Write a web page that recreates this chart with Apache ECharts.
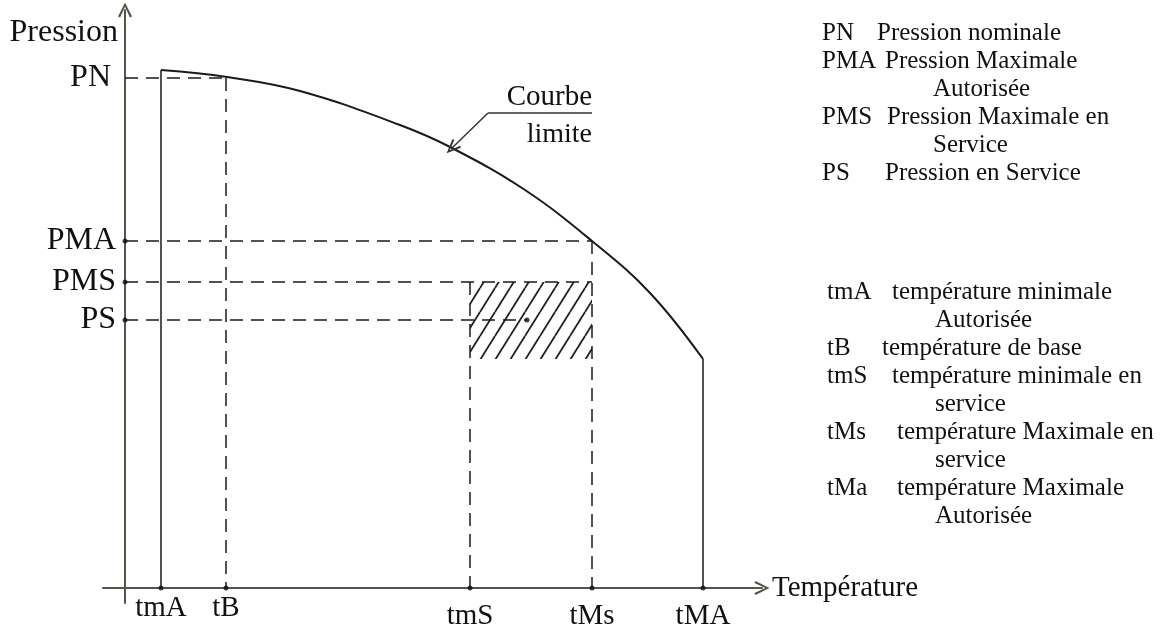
<!DOCTYPE html>
<html>
<head>
<meta charset="utf-8">
<script src="https://cdn.jsdelivr.net/npm/echarts@6/dist/echarts.min.js"></script>
<style>
  html, body { margin: 0; padding: 0; background: #fff; }
  #chart { width: 1166px; height: 629px; }
</style>
</head>
<body>
<div id="chart"></div>
<script>
// temperature marks on the x axis
const tempLabels = ["tmA", "tB", "tmS", "tMs", "tMA"];
const tempValues = [36, 101, 345, 467, 578];
// pressure marks on the y axis
const pressLabels = ["PN", "PMA", "PMS", "PS"];
const pressValues = [510, 347, 306, 268];
// limit curve
const curveX = [36, 102, 175, 275, 327, 400, 467, 525, 578];
const curveY = [518, 511, 497, 463, 440, 398, 347, 295, 229];
// hatched operating zone bottom and the PS point inside it
const hatchBottom = 229;
const psPoint = 402;

const legendPress = [
  ["PN", "Pression nominale"],
  ["PMA", "Pression Maximale", "Autorisée"],
  ["PMS", "Pression Maximale en", "Service"],
  ["PS", "Pression en Service"],
];
const legendTemp = [
  ["tmA", "température minimale", "Autorisée"],
  ["tB", "température de base"],
  ["tmS", "température minimale en", "service"],
  ["tMs", "température Maximale en", "service"],
  ["tMa", "température Maximale", "Autorisée"],
];

const FONT = "Liberation Serif";
const INK = "#1a1a1a";
const AXIS = "#55554a";
const chevron = "path://M0,20 L10,0 L20,20 L17,21.5 L10,6 L3,21.5 Z";

const [tmA, tB, tmS, tMs, tMA] = tempValues;
const [PN, PMA, PMS, PS] = pressValues;

const chart = echarts.init(document.getElementById("chart"));

function seg(a, b, dashed) {
  return {
    type: "line",
    data: [a, b],
    symbol: "none",
    silent: true,
    lineStyle: { color: INK, width: 1.5, type: dashed ? [13, 8] : "solid" },
    z: 3,
  };
}

// hatch pattern
const tile = document.createElement("canvas");
tile.width = 15;
tile.height = 24;
const tctx = tile.getContext("2d");
tctx.strokeStyle = "#222";
tctx.lineWidth = 1.8;
[-15, 0, 15].forEach((off) => {
  tctx.beginPath();
  tctx.moveTo(off, 24);
  tctx.lineTo(off + 15, 0);
  tctx.stroke();
});

const graphics = [];
function addText(x, y, text, size, align) {
  graphics.push({
    type: "text",
    x: x,
    y: y,
    style: {
      text: text,
      font: size + "px '" + FONT + "'",
      fill: "#111",
      align: align || "left",
      verticalAlign: "middle",
    },
  });
}
// legend rows
const LEG = 25;
const STEP = 28;
const pressX2 = [877, 885, 887, 885];
let rowY = 33;
legendPress.forEach((row, i) => {
  addText(822, rowY, row[0], LEG);
  addText(pressX2[i], rowY, row[1], LEG);
  rowY += STEP;
  if (row[2]) {
    addText(933, rowY, row[2], LEG);
    rowY += STEP;
  }
});
const tempX2 = [892, 882, 892, 897, 897];
rowY = 292;
legendTemp.forEach((row, i) => {
  addText(827, rowY, row[0], LEG);
  addText(tempX2[i], rowY, row[1], LEG);
  rowY += STEP;
  if (row[2]) {
    addText(935, rowY, row[2], LEG);
    rowY += STEP;
  }
});
addText(592, 97, "Courbe", 29, "right");
addText(592, 135, "limite", 28, "right");

const xLabelStyle = { fontFamily: FONT, fontSize: 29, color: "#111" };
const yLabelStyle = { fontFamily: FONT, fontSize: 32, color: "#111" };

const option = {
  animation: false,
  backgroundColor: "#fff",
  grid: { left: 103, right: 404, top: 10, bottom: 26, outerBoundsMode: "none", containLabel: false },
  xAxis: {
    type: "value",
    min: -22,
    max: 637,
    splitLine: { show: false },
    axisTick: { show: false },
    axisLine: {
      onZero: true,
      symbol: ["none", chevron],
      symbolSize: [14, 18],
      lineStyle: { color: AXIS, width: 2 },
    },
    axisLabel: {
      customValues: tempValues,
      margin: -9,
      formatter: (v) => {
        const i = tempValues.indexOf(v);
        return i < 2 ? tempLabels[i] : "{low|" + tempLabels[i] + "}";
      },
      rich: { low: Object.assign({ padding: [8, 0, 0, 0] }, xLabelStyle) },
      ...xLabelStyle,
    },
    name: "Température",
    nameLocation: "end",
    nameGap: 10,
    nameTextStyle: xLabelStyle,
  },
  yAxis: {
    type: "value",
    min: -15,
    max: 578,
    splitLine: { show: false },
    axisTick: { show: false },
    axisLine: {
      onZero: true,
      symbol: ["none", chevron],
      symbolSize: [14, 18],
      lineStyle: { color: AXIS, width: 2 },
    },
    axisLabel: {
      customValues: pressValues,
      margin: -13,
      formatter: (v) => {
        const i = pressValues.indexOf(v);
        return i === 0 ? "{pn|" + pressLabels[i] + "}" : pressLabels[i];
      },
      rich: { pn: Object.assign({ padding: [0, 5, 0, 0] }, yLabelStyle) },
      ...yLabelStyle,
    },
    name: "Pression",
    nameLocation: "end",
    nameGap: -23,
    nameTextStyle: Object.assign({ align: "right", verticalAlign: "middle", padding: [0, 7, 0, 0] }, yLabelStyle),
  },
  graphic: graphics,
  series: [
    {
      type: "custom",
      silent: true,
      z: 1,
      data: [[tmS, hatchBottom, tMs, PMS]],
      renderItem: (params, api) => {
        const p0 = api.coord([api.value(0), api.value(3)]);
        const p1 = api.coord([api.value(2), api.value(1)]);
        return {
          type: "rect",
          shape: { x: p0[0], y: p0[1], width: p1[0] - p0[0], height: p1[1] - p0[1] },
          style: { fill: { image: tile, repeat: "repeat" } },
        };
      },
    },
    {
      type: "line",
      data: curveX.map((x, i) => [x, curveY[i]]),
      smooth: 0.4,
      symbol: "none",
      silent: true,
      z: 4,
      lineStyle: { color: INK, width: 2 },
      markLine: {
        silent: true,
        symbol: ["none", "none"],
        label: { show: false },
        lineStyle: { color: "#333", width: 1.5, type: "solid" },
        data: [
          [{ coord: [363, 475] }, { coord: [467, 475] }],
          [{ coord: [363, 475] }, { coord: [327, 440], symbol: chevron, symbolSize: [12, 15] }],
        ],
      },
    },
    // solid limits
    seg([tmA, curveY[0]], [tmA, 0], false),
    seg([tMA, curveY[curveY.length - 1]], [tMA, 0], false),
    // dashed guides
    seg([0, PN], [tB, PN], true),
    seg([tB, PN], [tB, 0], true),
    seg([0, PMA], [tMs, PMA], true),
    seg([tMs, PMA], [tMs, 0], true),
    seg([0, PMS], [tMs, PMS], true),
    seg([tmS, PMS], [tmS, 0], true),
    seg([0, PS], [psPoint, PS], true),
    {
      type: "scatter",
      silent: true,
      z: 5,
      symbolSize: 5,
      itemStyle: { color: "#111" },
      data: [[0, PMA], [0, PMS], [0, PS], [psPoint, PS]].concat(tempValues.map((v) => [v, 0])),
    },
  ],
};

chart.setOption(option);
</script>
</body>
</html>
